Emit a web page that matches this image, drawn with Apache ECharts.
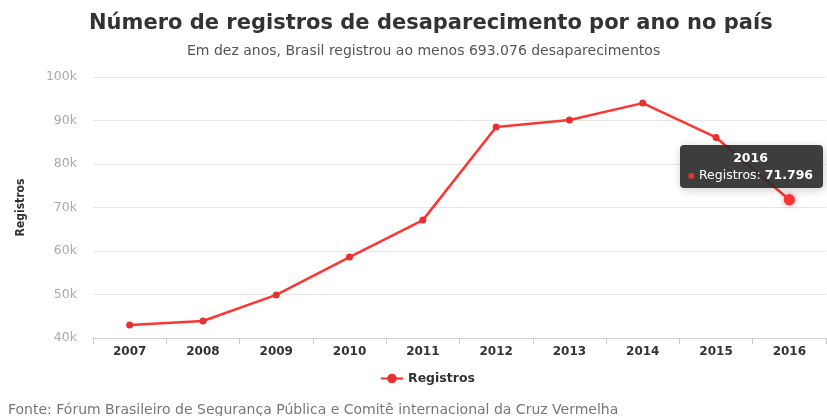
<!DOCTYPE html>
<html><head><meta charset="utf-8">
<script src="https://cdn.jsdelivr.net/npm/echarts@6/dist/echarts.min.js"></script>
<style>html,body{margin:0;padding:0;background:#fff}#c{width:827px;height:416px}</style>
</head><body><div id="c"></div>
<script>
const years = ['2007','2008','2009','2010','2011','2012','2013','2014','2015','2016'];
const registros = [43000, 43900, 49900, 58600, 67100, 88500, 90100, 94000, 86100, 71796];
const yTicks = {min: 40000, max: 100000, interval: 10000};

const FONT = 'DejaVu Sans';
const chart = echarts.init(document.getElementById('c'), null, {renderer: 'canvas'});
const fmt = v => v.toString().replace(/\B(?=(\d{3})+(?!\d))/g, '.');
chart.setOption({
  animation: false,
  textStyle: {fontFamily: FONT},
  title: [{
    text: 'Número de registros de desaparecimento por ano no país',
    left: 84, top: 8,
    textStyle: {fontFamily: FONT, fontWeight: 'bold', fontSize: 21, color: '#333'}
  }, {
    text: 'Em dez anos, Brasil registrou ao menos 693.076 desaparecimentos',
    left: 182, top: 39,
    textStyle: {fontFamily: FONT, fontWeight: 'normal', fontSize: 14, color: '#555'}
  }],
  grid: {left: 93, right: 1, top: 77, bottom: 78},
  legend: {
    data: ['Registros'], bottom: 26, left: 375, itemWidth: 22, itemHeight: 12, itemGap: 6,
    textStyle: {fontWeight: 'bold', fontSize: 12.5, color: '#333', fontFamily: FONT}
  },
  tooltip: {
    trigger: 'item', alwaysShowContent: true, showDelay: 0, transitionDuration: 0,
    backgroundColor: 'rgba(45,45,45,0.92)', borderColor: '#333', borderWidth: 0,
    padding: [4, 10, 4, 8],
    textStyle: {color: '#fff', fontSize: 12.5, fontFamily: FONT, lineHeight: 17},
    position: function () { return [680, 145]; },
    formatter: function (p) {
      return '<div style="text-align:center;font-weight:bold">' + p.name + '</div>' +
        '<span style="color:#e8312f;font-size:8px;vertical-align:middle">\u25CF</span> ' + p.seriesName + ': <b>' + fmt(p.value) + '</b>';
    }
  },
  xAxis: {
    type: 'category', data: years, boundaryGap: true,
    axisLine: {lineStyle: {color: '#ccc'}},
    axisTick: {show: true, length: 6, lineStyle: {color: '#ccc'}},
    axisLabel: {fontWeight: 'bold', fontSize: 12, color: '#333', margin: 8, fontFamily: FONT}
  },
  yAxis: {
    type: 'value', min: yTicks.min, max: yTicks.max, interval: yTicks.interval,
    name: 'Registros', nameLocation: 'middle', nameGap: 66, nameRotate: 90,
    nameTextStyle: {fontWeight: 'bold', fontSize: 12, color: '#333', fontFamily: 'DejaVu Sans Condensed'},
    axisLine: {show: false}, axisTick: {show: false},
    axisLabel: {fontSize: 12.5, color: '#aaa', margin: 16, fontFamily: FONT, formatter: v => (v / 1000) + 'k'},
    splitLine: {lineStyle: {color: '#e6e6e6'}}
  },
  series: [{
    name: 'Registros', type: 'line', data: registros,
    symbol: 'circle', symbolSize: 7,
    lineStyle: {color: '#e8312f', width: 2.5},
    itemStyle: {color: '#e8312f'},
    emphasis: {scale: 1.6, itemStyle: {shadowBlur: 6, shadowColor: 'rgba(232,49,47,0.5)'}}
  }],
  graphic: [{
    type: 'text', left: 8, top: 403,
    style: {text: 'Fonte: Fórum Brasileiro de Segurança Pública e Comitê internacional da Cruz Vermelha',
      fill: '#777', font: '14px "DejaVu Sans"'}
  }]
});
chart.dispatchAction({type: 'highlight', seriesIndex: 0, dataIndex: 9});
chart.dispatchAction({type: 'showTip', seriesIndex: 0, dataIndex: 9});
</script></body></html>
